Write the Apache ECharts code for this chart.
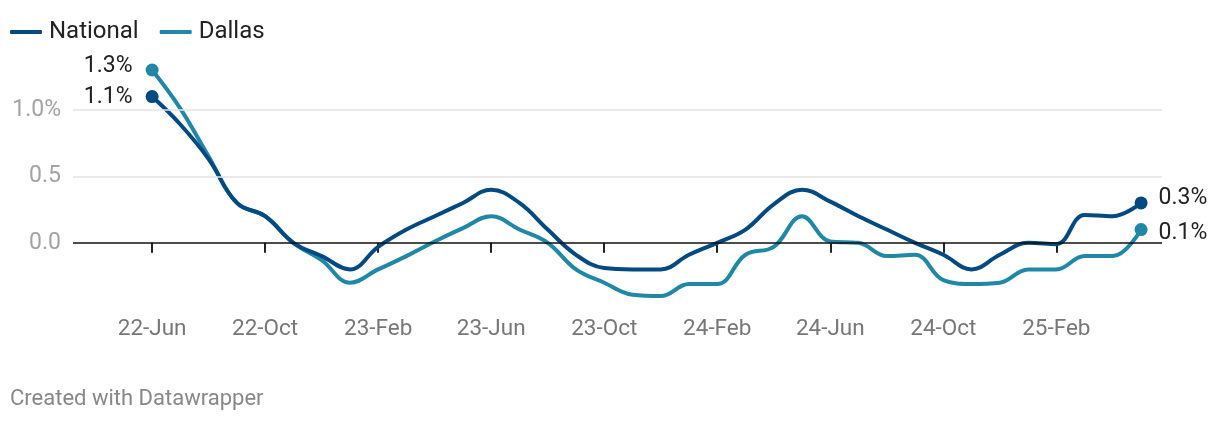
<!DOCTYPE html>
<html><head><meta charset="utf-8">
<script src="https://cdn.jsdelivr.net/npm/echarts@6/dist/echarts.min.js"></script>
<style>html,body{margin:0;padding:0;background:#fff}#c{width:1220px;height:424px}</style>
</head><body><div id="c"></div>
<script>
// month index 0 = 22-Jun ... 35 = 25-May
const months = ['22-Jun','22-Jul','22-Aug','22-Sep','22-Oct','22-Nov','22-Dec','23-Jan','23-Feb','23-Mar','23-Apr','23-May','23-Jun','23-Jul','23-Aug','23-Sep','23-Oct','23-Nov','23-Dec','24-Jan','24-Feb','24-Mar','24-Apr','24-May','24-Jun','24-Jul','24-Aug','24-Sep','24-Oct','24-Nov','24-Dec','25-Jan','25-Feb','25-Mar','25-Apr','25-May'];
const national = [1.1,0.89,0.63,0.3,0.2,0.0,-0.1,-0.2,-0.03,0.1,0.2,0.3,0.4,0.3,0.1,-0.09,-0.19,-0.2,-0.2,-0.09,0.0,0.1,0.29,0.4,0.31,0.2,0.1,0.0,-0.09,-0.2,-0.09,0.0,-0.01,0.21,0.2,0.3];
const dallas   = [1.3,1.01,0.65,0.3,0.2,0.0,-0.13,-0.3,-0.2,-0.1,0.01,0.11,0.2,0.1,0.0,-0.2,-0.3,-0.39,-0.4,-0.31,-0.31,-0.09,-0.03,0.2,0.01,0.0,-0.1,-0.09,-0.28,-0.31,-0.3,-0.2,-0.2,-0.1,-0.1,0.1];
const tickIdx = [0,4,8,12,16,20,24,28,32];
const yLabels = {0:'0.0',0.5:'0.5',1:'1.0%'};
const C_NAT = '#034a82', C_DAL = '#1f88a7';

const toXY = arr => arr.map((v,i)=>[i,v]);
const last = months.length - 1;
const chart = echarts.init(document.getElementById('c'));
const font = 'Roboto, "Noto Sans", sans-serif';
chart.setOption({
  animation:false,
  textStyle:{fontFamily:font},
  legend:{left:10, top:20, padding:0, itemWidth:32, itemHeight:4, itemGap:21, icon:'roundRect',
    textStyle:{fontSize:24, color:'#222', fontFamily:font, padding:[0,0,0,2]},
    data:[{name:'National'},{name:'Dallas'}]},
  grid:{left:73, right:58, top:70, bottom:128, containLabel:false},
  xAxis:{type:'value', min:-2.8, max:35.74,
    axisLine:{show:false},
    splitLine:{show:false},
    axisTick:{show:true, customValues:tickIdx, length:10, lineStyle:{color:'#222', width:2}},
    axisLabel:{customValues:tickIdx, formatter:v=>months[Math.round(v)], fontSize:22.5, color:'#777', margin:22, fontFamily:font}},
  yAxis:{type:'value', min:-0.4, max:1.3,
    axisLine:{show:false}, axisTick:{show:false}, splitLine:{show:false},
    axisLabel:{customValues:[0,0.5,1], formatter:v=>yLabels[v] ?? '', fontSize:23, color:'#a3a3a3', margin:12, fontFamily:font}},
  graphic:[{type:'text', left:10, top:388, style:{text:'Created with Datawrapper', fontSize:22, fill:'#888', fontFamily:font}}],
  series:[
    {name:'National', type:'line', data:toXY(national), smooth:0.4, showSymbol:false,
      lineStyle:{width:4, color:C_NAT}, itemStyle:{color:C_NAT}, z:3,
      markLine:{silent:true, symbol:'none', label:{show:false},
        data:[
          {yAxis:0.5, lineStyle:{color:'#e3e3e3', width:1.5, type:'solid'}},
          {yAxis:1, lineStyle:{color:'#e3e3e3', width:1.5, type:'solid'}},
          {yAxis:0, lineStyle:{color:'#111', width:1.5, type:'solid'}}
        ]}},
    {name:'Dallas', type:'line', data:toXY(dallas), smooth:0.4, showSymbol:false,
      lineStyle:{width:4, color:C_DAL}, itemStyle:{color:C_DAL}, z:2},
    {name:'National', type:'scatter', symbolSize:13, itemStyle:{color:C_NAT, opacity:1}, z:5,
      data:[
        {value:[0,national[0]], label:{show:true, position:'left', distance:13, offset:[0,1]}},
        {value:[last,national[last]], label:{show:true, position:'right', distance:11, offset:[0,-5]}}],
      label:{formatter:p=>p.value[1].toFixed(1)+'%', fontSize:23, color:'#222', fontFamily:font}},
    {name:'Dallas', type:'scatter', symbolSize:13, itemStyle:{color:C_DAL, opacity:1}, z:5,
      data:[
        {value:[0,dallas[0]], label:{show:true, position:'left', distance:13, offset:[0,-4]}},
        {value:[last,dallas[last]], label:{show:true, position:'right', distance:11, offset:[0,4]}}],
      label:{formatter:p=>p.value[1].toFixed(1)+'%', fontSize:23, color:'#222', fontFamily:font}}
  ]
});
</script></body></html>
